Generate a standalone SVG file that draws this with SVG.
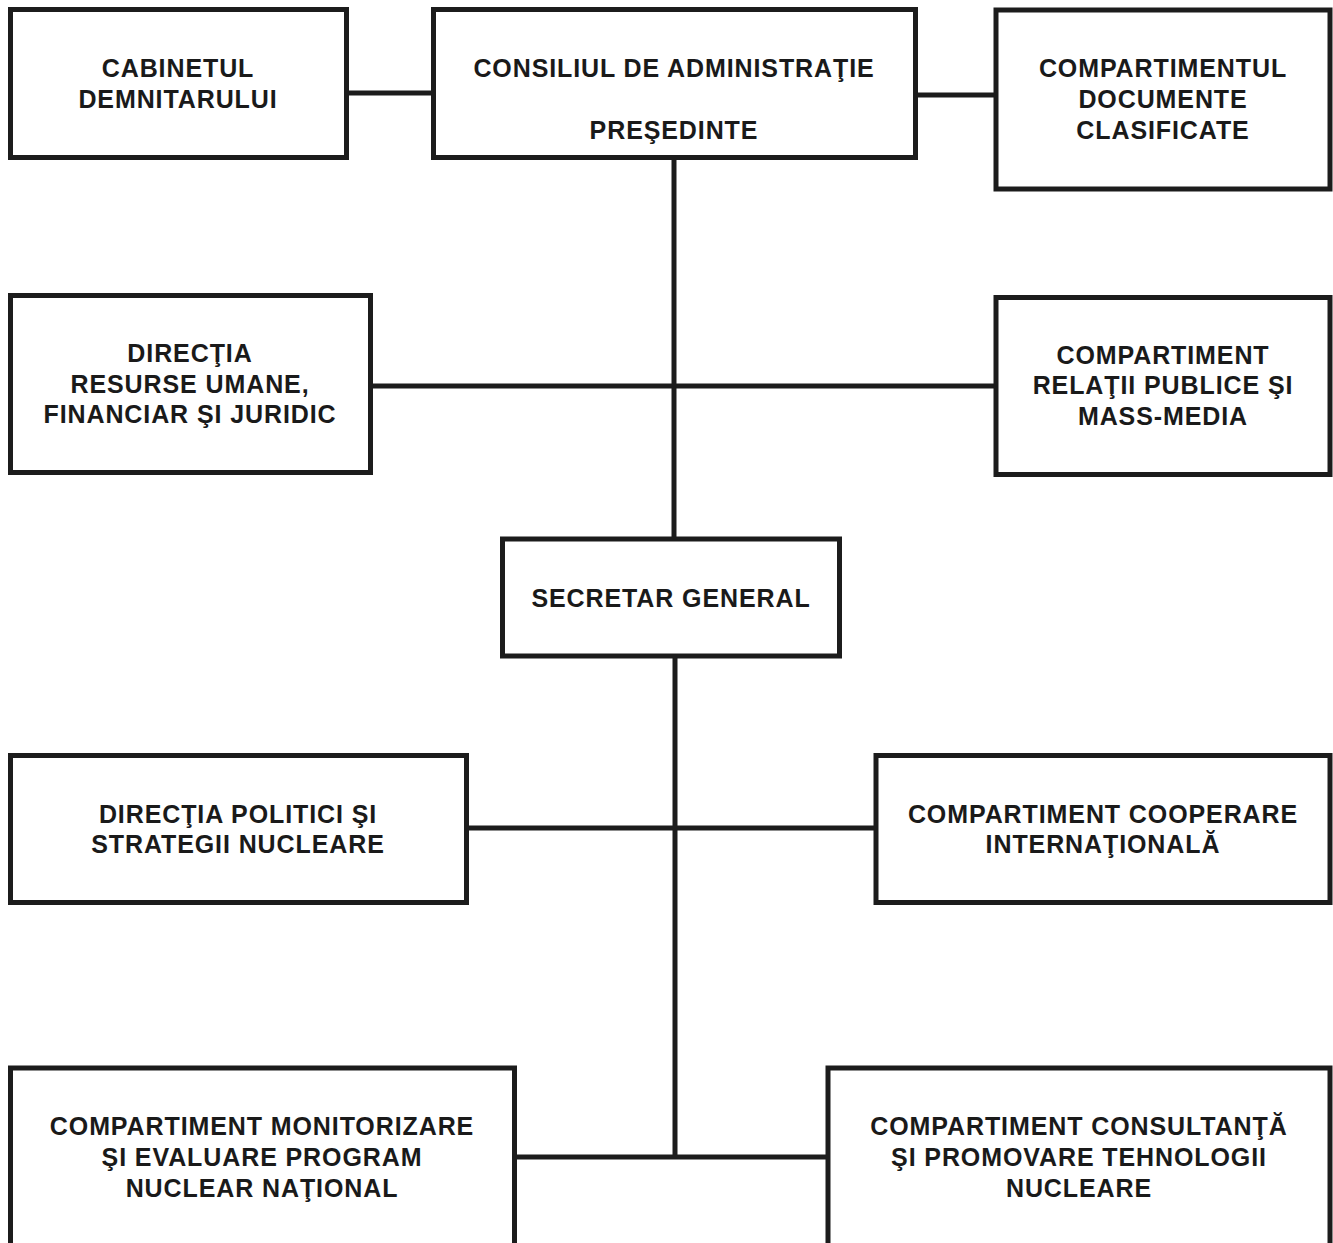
<svg xmlns="http://www.w3.org/2000/svg" width="1333" height="1243" viewBox="0 0 1333 1243">
<style>
.box{fill:#fff;stroke:#1c1c1c;stroke-width:5}
.ln{stroke:#1c1c1c;stroke-width:5;fill:none}
text{font-family:"Liberation Sans",Arial,sans-serif;font-weight:bold;font-size:25px;letter-spacing:0.9px;fill:#1a1a1a;text-anchor:middle}
</style>
<rect width="1333" height="1243" fill="#fff"/>
<g id="connectors">
<line class="ln" x1="346" y1="93" x2="434" y2="93"/>
<line class="ln" x1="915" y1="95" x2="996" y2="95"/>
<line class="ln" x1="674" y1="157" x2="674" y2="539"/>
<line class="ln" x1="370" y1="386" x2="996" y2="386"/>
<line class="ln" x1="675" y1="655" x2="675" y2="1157"/>
<line class="ln" x1="466" y1="828" x2="876" y2="828"/>
<line class="ln" x1="514" y1="1157" x2="828" y2="1157"/>
</g>
<g id="cabinetul">
<rect class="box" x="10.5" y="9.5" width="336" height="148"/>
<text x="178" y="77">CABINETUL</text>
<text x="178" y="108">DEMNITARULUI</text>
</g>
<g id="consiliul">
<rect class="box" x="433.5" y="9.5" width="482" height="148"/>
<text x="674" y="77">CONSILIUL DE ADMINISTRAŢIE</text>
<text x="674" y="139">PREŞEDINTE</text>
</g>
<g id="documente">
<rect class="box" x="996" y="10" width="334" height="179"/>
<text x="1163" y="77">COMPARTIMENTUL</text>
<text x="1163" y="108">DOCUMENTE</text>
<text x="1163" y="139">CLASIFICATE</text>
</g>
<g id="resurse">
<rect class="box" x="10.5" y="295.5" width="360" height="177"/>
<text x="190" y="362">DIRECŢIA</text>
<text x="190" y="393">RESURSE UMANE,</text>
<text x="190" y="423">FINANCIAR ŞI JURIDIC</text>
</g>
<g id="relatii">
<rect class="box" x="996" y="297.5" width="334" height="177"/>
<text x="1163" y="364">COMPARTIMENT</text>
<text x="1163" y="394">RELAŢII PUBLICE ŞI</text>
<text x="1163" y="425">MASS-MEDIA</text>
</g>
<g id="secretar">
<rect class="box" x="502.5" y="539" width="337" height="117"/>
<text x="671" y="607">SECRETAR GENERAL</text>
</g>
<g id="politici">
<rect class="box" x="10.5" y="755.5" width="456" height="147"/>
<text x="238" y="823">DIRECŢIA POLITICI ŞI</text>
<text x="238" y="853">STRATEGII NUCLEARE</text>
</g>
<g id="cooperare">
<rect class="box" x="876" y="755.5" width="454" height="147"/>
<text x="1103" y="823">COMPARTIMENT COOPERARE</text>
<text x="1103" y="853">INTERNAŢIONALĂ</text>
</g>
<g id="monitorizare">
<rect class="box" x="10.5" y="1068" width="504" height="200"/>
<text x="262" y="1135">COMPARTIMENT MONITORIZARE</text>
<text x="262" y="1166">ŞI EVALUARE PROGRAM</text>
<text x="262" y="1197">NUCLEAR NAŢIONAL</text>
</g>
<g id="consultanta">
<rect class="box" x="828" y="1068" width="502" height="200"/>
<text x="1079" y="1135">COMPARTIMENT CONSULTANŢĂ</text>
<text x="1079" y="1166">ŞI PROMOVARE TEHNOLOGII</text>
<text x="1079" y="1197">NUCLEARE</text>
</g>
</svg>
